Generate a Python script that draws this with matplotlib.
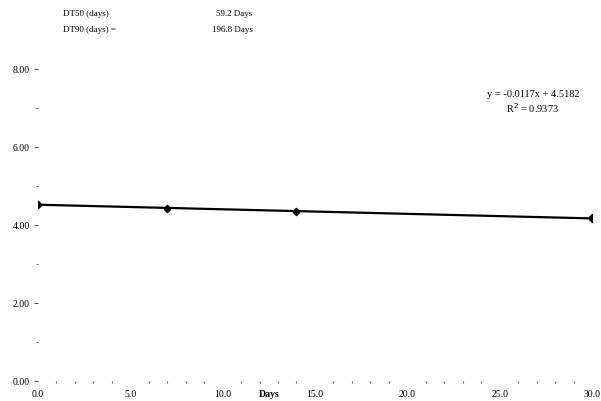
import numpy as np
import matplotlib
matplotlib.use("Agg")
import matplotlib.pyplot as plt
from matplotlib.ticker import MultipleLocator, FormatStrFormatter

plt.rcParams['font.family'] = ['Liberation Serif', 'DejaVu Serif']

# Data
days = [0, 0, 7, 7, 14, 14, 30, 30]
values = [4.53, 4.51, 4.44, 4.42, 4.36, 4.34, 4.21, 4.15]
slope = -0.0117
intercept = 4.5182
r2 = 0.9373
dt50 = "59.2 Days"
dt90 = "196.8 Days"

fig = plt.figure(figsize=(6.01, 4.02), dpi=100)
ax = fig.add_axes([0.063, 0.05, 0.922, 0.776])

# Trendline
xs = np.array([0, 30])
ax.plot(xs, slope * xs + intercept, color='black', lw=1.6, zorder=2)
ax.plot(days, values, linestyle='none', marker='D', ms=3.2, color='black', zorder=3)

ax.set_xlim(0, 30)
ax.set_ylim(0, 8)
for s in ax.spines.values():
    s.set_visible(False)

ax.xaxis.set_major_locator(MultipleLocator(5))
ax.xaxis.set_minor_locator(MultipleLocator(1))
ax.yaxis.set_major_locator(MultipleLocator(2))
ax.yaxis.set_minor_locator(MultipleLocator(1))
ax.xaxis.set_major_formatter(FormatStrFormatter('%.1f'))
ax.yaxis.set_major_formatter(FormatStrFormatter('%.2f'))
ax.tick_params(axis='both', which='major', labelsize=7, length=3, width=0.7,
               color='#444444', direction='out')
ax.tick_params(axis='y', which='major', pad=3)
ax.tick_params(axis='x', which='major', pad=6, length=0)
ax.tick_params(axis='both', which='minor', length=1.2, width=0.8, color='#666666')

ax.text(12.5, -0.2, 'Days', fontsize=7, fontweight='bold', ha='center', va='top')

# Regression equation
ax.text(26.8, 7.38, 'y = -0.0117x + 4.5182', fontsize=7.5, ha='center', va='center')
ax.text(26.8, 7.02, 'R$^2$ = %.4f' % r2, fontsize=7.5, ha='center', va='center')

# Header block
fig.text(0.105, 0.965, 'DT50 (days)', fontsize=6.5, ha='left', va='center')
fig.text(0.105, 0.925, 'DT90 (days) =', fontsize=6.5, ha='left', va='center')
fig.text(0.42, 0.965, dt50, fontsize=6.5, ha='right', va='center')
fig.text(0.42, 0.925, dt90, fontsize=6.5, ha='right', va='center')

fig.savefig('out.png', dpi=100)
